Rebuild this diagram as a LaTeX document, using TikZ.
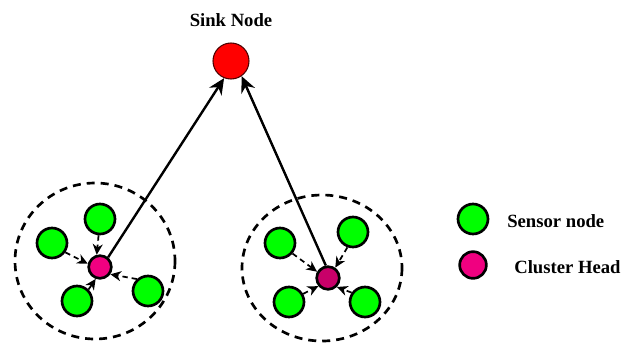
\documentclass[tikz,border=0pt]{standalone}
\usepackage{fontspec}
\setmainfont{Liberation Serif}
\usetikzlibrary{arrows.meta}
\definecolor{sensorgreen}{RGB}{0,255,0}
\definecolor{chpink}{RGB}{240,0,128}
\definecolor{chdark}{RGB}{200,0,105}
\definecolor{sinkred}{RGB}{255,0,0}
\tikzset{
  sensor/.style={circle, draw=black, line width=2pt, fill=sensorgreen, minimum size=22.5pt, inner sep=0pt},
  chnode/.style={circle, draw=black, line width=2pt, minimum size=17pt, inner sep=0pt},
  sinknode/.style={circle, draw=black!70!red, line width=0.8pt, fill=sinkred, minimum size=27pt, inner sep=0pt},
  cluster/.style={draw=black, line width=2pt, dash pattern=on 6pt off 4.5pt},
  feed/.style={draw=black, line width=1.3pt, dash pattern=on 4pt off 3pt, -{Stealth[length=8pt,width=7.5pt,inset=2.5pt]}},
  uplink/.style={draw=black, line width=1.8pt, -{Stealth[length=12pt,width=11pt,inset=4pt]}},
  lbl/.style={font=\bfseries\fontsize{14}{16}\selectfont, inner sep=0pt}
}
\begin{document}
\begin{tikzpicture}[x=0.75pt,y=-0.75pt]
\useasboundingbox (0,0) rectangle (630,347);
% clusters
\draw[cluster] (95,261) ellipse [x radius=80, y radius=78];
\draw[cluster] (322,268) ellipse [x radius=80, y radius=73];
% sink
\node[lbl] (sinklbl) at (231,20) {Sink Node};
\node[sinknode] (sink) at (231,61) {};
% left cluster
\node[chnode, fill=chpink] (ch1) at (100,267) {};
\node[sensor] (a1) at (100,219) {};
\node[sensor] (a2) at (52,243) {};
\node[sensor] (a3) at (77,301) {};
\node[sensor] (a4) at (148,291) {};
\draw[feed] (a1.-95) -- (ch1.105);
\draw[feed] (a2.-35) -- (ch1.165);
\draw[feed] (a3.45) -- (ch1.-110);
\draw[feed] (a4.133) -- (ch1.-35);
% right cluster
\node[chnode, fill=chdark] (ch2) at (328,278) {};
\node[sensor] (b1) at (280,243) {};
\node[sensor] (b2) at (353,232) {};
\node[sensor] (b3) at (289,302) {};
\node[sensor] (b4) at (365,302) {};
\draw[feed] (b1.-40) -- (ch2.150);
\draw[feed] (b2.-110) -- (ch2.55);
\draw[feed] (b3.30) -- (ch2.-140);
\draw[feed] (b4.145) -- (ch2.-45);
% uplinks
\draw[uplink] (ch1.50) -- (sink.-112);
\draw[uplink] (ch2.100) -- (sink.-55);
% legend
\node[sensor] (lg1) at (473,219) {};
\node[chnode, fill=chpink, minimum size=20pt] (lg2) at (473,265) {};
\node[lbl, anchor=west] (lt1) at (507,221) {Sensor node};
\node[lbl, anchor=west] (lt2) at (514,267) {Cluster Head};
\end{tikzpicture}
\end{document}
